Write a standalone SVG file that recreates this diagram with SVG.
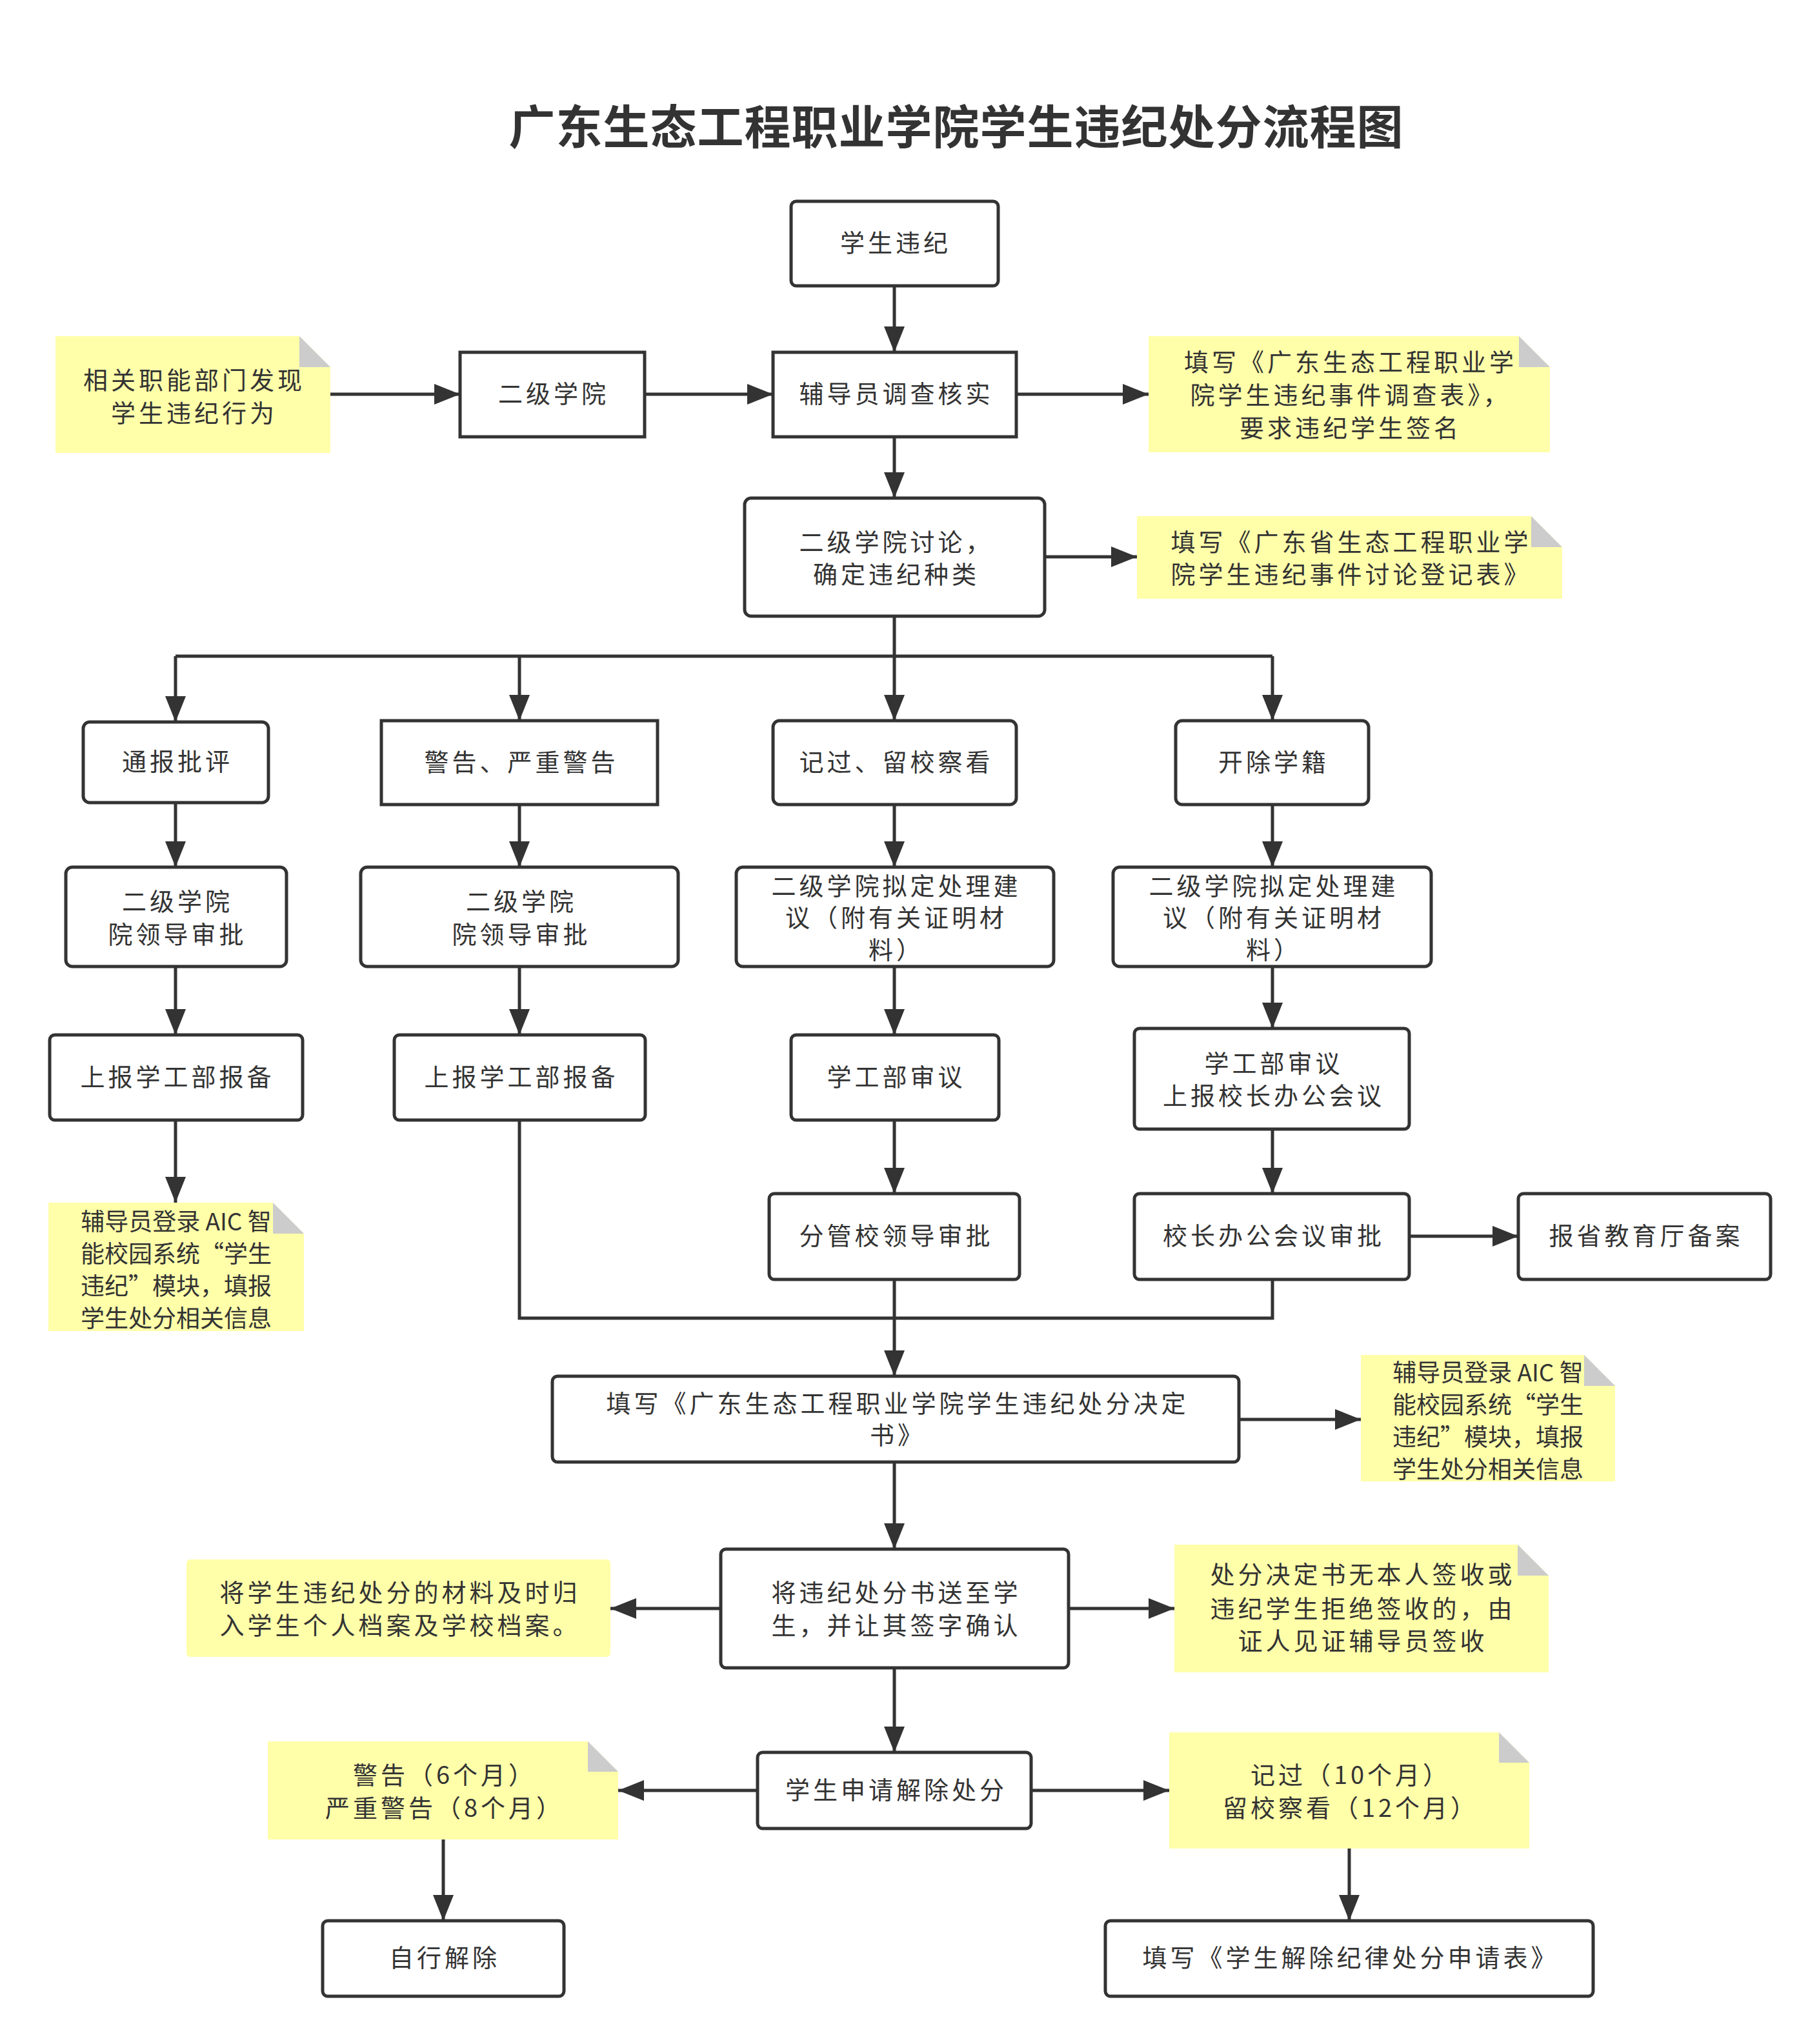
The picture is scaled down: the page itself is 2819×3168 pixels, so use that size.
<svg xmlns="http://www.w3.org/2000/svg" width="2819" height="3168" viewBox="0 0 2819 3168">
<style>
.box{fill:#fff;stroke:#333;stroke-width:5}
.note{fill:#ffffaa}
.fold{fill:#cccccc}
.t{font-family:"Noto Sans CJK SC","Noto Sans",sans-serif;font-size:38px;fill:#333;text-anchor:middle;letter-spacing:5px}
.s{font-family:"Noto Sans CJK SC","Noto Sans",sans-serif;font-size:37px;fill:#333;text-anchor:middle}
.title{font-family:"Noto Sans CJK SC","Noto Sans",sans-serif;font-size:72px;font-weight:bold;fill:#333;text-anchor:middle;letter-spacing:1px}
.ln{stroke:#333;stroke-width:5;fill:none}
.ar{stroke:#333;stroke-width:5;fill:none;marker-end:url(#ah)}
</style>
<defs>
<marker id="ah" markerUnits="userSpaceOnUse" markerWidth="40" markerHeight="32" refX="40" refY="16" orient="auto">
<path d="M0,0 L40,16 L0,32 z" fill="#333"/>
</marker>
</defs>
<rect width="2819" height="3168" fill="#fff"/>
<text class="title" x="1482" y="223">广东生态工程职业学院学生违纪处分流程图</text>

<g id="connectors">
<path class="ar" d="M1386,443 V546"/>
<path class="ar" d="M512,611 H713"/>
<path class="ar" d="M999,611 H1198"/>
<path class="ar" d="M1575,611 H1780"/>
<path class="ar" d="M1386,677 V772"/>
<path class="ar" d="M1619,863 H1762"/>
<path class="ar" d="M1386,955 V1117"/>
<path class="ln" d="M272,1017 H1972"/>
<path class="ar" d="M272,1017 V1119"/>
<path class="ar" d="M805,1017 V1117"/>
<path class="ar" d="M1972,1017 V1117"/>
<path class="ar" d="M272,1244 V1344"/>
<path class="ar" d="M272,1498 V1604"/>
<path class="ar" d="M272,1736 V1864"/>
<path class="ar" d="M805,1247 V1344"/>
<path class="ar" d="M805,1498 V1604"/>
<path class="ln" d="M805,1736 V2043 H1972 V1983"/>
<path class="ar" d="M1386,1247 V1344"/>
<path class="ar" d="M1386,1498 V1604"/>
<path class="ar" d="M1386,1736 V1850"/>
<path class="ar" d="M1386,1983 V2133"/>
<path class="ar" d="M1972,1247 V1344"/>
<path class="ar" d="M1972,1498 V1594"/>
<path class="ar" d="M1972,1750 V1850"/>
<path class="ar" d="M2184,1916 H2353"/>
<path class="ar" d="M1920,2200 H2109"/>
<path class="ar" d="M1386,2266 V2401"/>
<path class="ar" d="M1117,2493 H946"/>
<path class="ar" d="M1656,2493 H1820"/>
<path class="ar" d="M1386,2585 V2716"/>
<path class="ar" d="M1174,2775 H958"/>
<path class="ar" d="M1598,2775 H1812"/>
<path class="ar" d="M687,2851 V2977"/>
<path class="ar" d="M2091,2865 V2977"/>
</g>

<g id="n_start"><rect class="box" x="1226" y="312" width="321" height="131" rx="8"/><text class="t" x="1388" y="390">学生违纪</text></g>
<g id="note_dept"><path class="note" d="M86,521 H464 L512,569 V702 H86 Z"/><path class="fold" d="M464,521 V569 H512 Z"/><text class="t" x="301" y="603">相关职能部门发现</text><text class="t" x="301" y="654">学生违纪行为</text></g>
<g id="n_college"><rect class="box" x="713" y="546" width="286" height="131"/><text class="t" x="858" y="624">二级学院</text></g>
<g id="n_counselor"><rect class="box" x="1198" y="546" width="377" height="131"/><text class="t" x="1389" y="624">辅导员调查核实</text></g>
<g id="note_survey"><path class="note" d="M1780,521 H2354 L2402,569 V701 H1780 Z"/><path class="fold" d="M2354,521 V569 H2402 Z"/><text class="t" x="2093" y="575">填写《广东生态工程职业学</text><text class="t" x="2093" y="626">院学生违纪事件调查表》，</text><text class="t" x="2093" y="677">要求违纪学生签名</text></g>
<g id="n_discuss"><rect class="box" x="1154" y="772" width="465" height="183" rx="10"/><text class="t" x="1389" y="854">二级学院讨论，</text><text class="t" x="1389" y="904">确定违纪种类</text></g>
<g id="note_discuss"><path class="note" d="M1762,800 H2373 L2421,848 V928 H1762 Z"/><path class="fold" d="M2373,800 V848 H2421 Z"/><text class="t" x="2094" y="854">填写《广东省生态工程职业学</text><text class="t" x="2094" y="904">院学生违纪事件讨论登记表》</text></g>

<g id="n_tongbao"><rect class="box" x="129" y="1119" width="287" height="125" rx="10"/><text class="t" x="275" y="1194">通报批评</text></g>
<g id="n_jinggao"><rect class="box" x="591" y="1117" width="428" height="130"/><text class="t" x="808" y="1195">警告、严重警告</text></g>
<g id="n_jiguo"><rect class="box" x="1198" y="1117" width="377" height="130" rx="10"/><text class="t" x="1389" y="1195">记过、留校察看</text></g>
<g id="n_kaichu"><rect class="box" x="1822" y="1117" width="299" height="130" rx="10"/><text class="t" x="1974" y="1195">开除学籍</text></g>

<g id="n_c1_approve"><rect class="box" x="102" y="1344" width="342" height="154" rx="10"/><text class="t" x="275" y="1411">二级学院</text><text class="t" x="275" y="1462">院领导审批</text></g>
<g id="n_c2_approve"><rect class="box" x="559" y="1344" width="492" height="154" rx="10"/><text class="t" x="808" y="1411">二级学院</text><text class="t" x="808" y="1462">院领导审批</text></g>
<g id="n_c3_propose"><rect class="box" x="1141" y="1344" width="492" height="154" rx="10"/><text class="t" x="1389" y="1387">二级学院拟定处理建</text><text class="t" x="1389" y="1436">议（附有关证明材</text><text class="t" x="1389" y="1486">料）</text></g>
<g id="n_c4_propose"><rect class="box" x="1725" y="1344" width="493" height="154" rx="10"/><text class="t" x="1974" y="1387">二级学院拟定处理建</text><text class="t" x="1974" y="1436">议（附有关证明材</text><text class="t" x="1974" y="1486">料）</text></g>

<g id="n_c1_report"><rect class="box" x="77" y="1604" width="392" height="132" rx="8"/><text class="t" x="275" y="1683">上报学工部报备</text></g>
<g id="n_c2_report"><rect class="box" x="611" y="1604" width="389" height="132" rx="8"/><text class="t" x="808" y="1683">上报学工部报备</text></g>
<g id="n_c3_review"><rect class="box" x="1226" y="1604" width="322" height="132" rx="8"/><text class="t" x="1389" y="1683">学工部审议</text></g>
<g id="n_c4_review"><rect class="box" x="1758" y="1594" width="426" height="156" rx="8"/><text class="t" x="1974" y="1662">学工部审议</text><text class="t" x="1974" y="1712">上报校长办公会议</text></g>

<g id="note_aic1"><path class="note" d="M75,1864 H423 L471,1912 V2063 H75 Z"/><path class="fold" d="M423,1864 V1912 H471 Z"/><text class="s" x="273" y="1907">辅导员登录 AIC 智</text><text class="s" x="273" y="1957">能校园系统“学生</text><text class="s" x="273" y="2007">违纪”模块，填报</text><text class="s" x="273" y="2057">学生处分相关信息</text></g>
<g id="n_c3_leader"><rect class="box" x="1192" y="1850" width="388" height="133" rx="8"/><text class="t" x="1389" y="1929">分管校领导审批</text></g>
<g id="n_c4_meeting"><rect class="box" x="1758" y="1850" width="426" height="133" rx="8"/><text class="t" x="1974" y="1929">校长办公会议审批</text></g>
<g id="n_edu"><rect class="box" x="2353" y="1850" width="391" height="133" rx="8"/><text class="t" x="2551" y="1929">报省教育厅备案</text></g>

<g id="n_decision"><rect class="box" x="856" y="2133" width="1064" height="133" rx="8"/><text class="t" x="1391" y="2189">填写《广东生态工程职业学院学生违纪处分决定</text><text class="t" x="1391" y="2238">书》</text></g>
<g id="note_aic2"><path class="note" d="M2109,2100 H2455 L2503,2148 V2296 H2109 Z"/><path class="fold" d="M2455,2100 V2148 H2503 Z"/><text class="s" x="2306" y="2141">辅导员登录 AIC 智</text><text class="s" x="2306" y="2191">能校园系统“学生</text><text class="s" x="2306" y="2241">违纪”模块，填报</text><text class="s" x="2306" y="2291">学生处分相关信息</text></g>

<g id="n_deliver"><rect class="box" x="1117" y="2401" width="539" height="184" rx="8"/><text class="t" x="1389" y="2482">将违纪处分书送至学</text><text class="t" x="1389" y="2533">生，并让其签字确认</text></g>
<g id="note_archive"><rect class="note" x="289" y="2417" width="657" height="151" rx="6"/><text class="t" x="620" y="2482">将学生违纪处分的材料及时归</text><text class="t" x="620" y="2533">入学生个人档案及学校档案。</text></g>
<g id="note_refuse"><path class="note" d="M1820,2394 H2352 L2400,2442 V2592 H1820 Z"/><path class="fold" d="M2352,2394 V2442 H2400 Z"/><text class="t" x="2112" y="2454">处分决定书无本人签收或</text><text class="t" x="2112" y="2507">违纪学生拒绝签收的，由</text><text class="t" x="2112" y="2557">证人见证辅导员签收</text></g>

<g id="n_apply"><rect class="box" x="1174" y="2716" width="424" height="118" rx="8"/><text class="t" x="1389" y="2788">学生申请解除处分</text></g>
<g id="note_warn"><path class="note" d="M415,2699 H911 L958,2746 V2851 H415 Z"/><path class="fold" d="M911,2699 V2746 H958 Z"/><text class="t" x="689" y="2765">警告（6个月）</text><text class="t" x="689" y="2816">严重警告（8个月）</text></g>
<g id="note_record"><path class="note" d="M1812,2685 H2323 L2370,2732 V2865 H1812 Z"/><path class="fold" d="M2323,2685 V2732 H2370 Z"/><text class="t" x="2093" y="2765">记过（10个月）</text><text class="t" x="2093" y="2816">留校察看（12个月）</text></g>

<g id="n_self"><rect class="box" x="500" y="2977" width="374" height="117" rx="8"/><text class="t" x="689" y="3048">自行解除</text></g>
<g id="n_form"><rect class="box" x="1713" y="2977" width="756" height="117" rx="8"/><text class="t" x="2093" y="3048">填写《学生解除纪律处分申请表》</text></g>
</svg>
